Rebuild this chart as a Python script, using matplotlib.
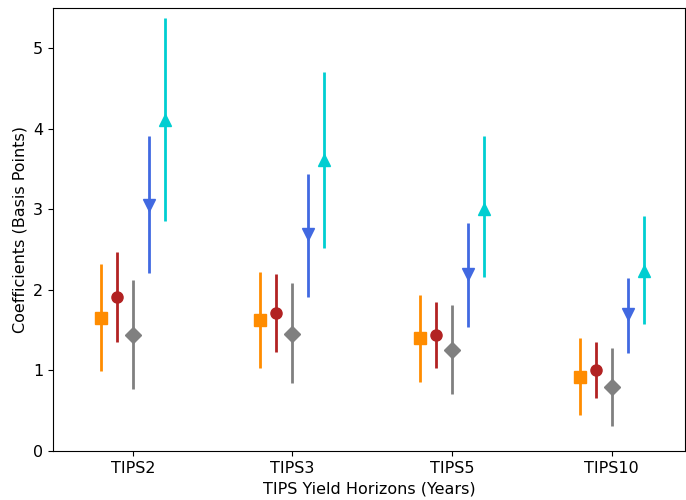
import matplotlib
matplotlib.use("Agg")
import matplotlib.pyplot as plt
import numpy as np

horizons = ["TIPS2", "TIPS3", "TIPS5", "TIPS10"]

# point estimates and interval bounds per series (basis points)
orange_mid = [1.65, 1.63, 1.40, 0.92]
orange_lo = [0.99, 1.03, 0.86, 0.45]
orange_hi = [2.32, 2.22, 1.94, 1.40]

red_mid = [1.91, 1.71, 1.44, 1.01]
red_lo = [1.35, 1.23, 1.03, 0.66]
red_hi = [2.47, 2.20, 1.85, 1.35]

gray_mid = [1.44, 1.45, 1.26, 0.79]
gray_lo = [0.77, 0.84, 0.71, 0.31]
gray_hi = [2.12, 2.08, 1.81, 1.28]

blue_mid = [3.06, 2.69, 2.20, 1.70]
blue_lo = [2.21, 1.91, 1.54, 1.22]
blue_hi = [3.91, 3.44, 2.83, 2.15]

cyan_mid = [4.11, 3.61, 3.01, 2.23]
cyan_lo = [2.85, 2.52, 2.16, 1.58]
cyan_hi = [5.37, 4.71, 3.91, 2.92]

series = [
    (orange_mid, orange_lo, orange_hi, "darkorange", "s", -0.2),
    (red_mid, red_lo, red_hi, "firebrick", "o", -0.1),
    (gray_mid, gray_lo, gray_hi, "gray", "D", 0.0),
    (blue_mid, blue_lo, blue_hi, "royalblue", "v", 0.1),
    (cyan_mid, cyan_lo, cyan_hi, "darkturquoise", "^", 0.2),
]

fig = plt.figure(figsize=(6.86, 5.0), dpi=100)
ax = fig.add_axes([53 / 686, 49 / 500, 632 / 686, 443 / 500])

x = np.arange(len(horizons))
for mid, lo, hi, col, mk, off in series:
    mid = np.array(mid)
    yerr = [mid - np.array(lo), np.array(hi) - mid]
    ax.errorbar(x + off, mid, yerr=yerr, fmt=mk, color=col, ecolor=col,
                elinewidth=2, markersize=8, capsize=0, linestyle="none")

ax.set_xticks(x)
ax.set_xticklabels(horizons, fontsize=11.5)
ax.tick_params(axis="y", labelsize=11.5)
ax.set_xlim(-0.5, 3.46)
ax.set_ylim(0, 5.5)
ax.set_xlabel("TIPS Yield Horizons (Years)", fontsize=11.5)
ax.set_ylabel("Coefficients (Basis Points)", fontsize=11.5)

fig.savefig("out.png", dpi=100)
